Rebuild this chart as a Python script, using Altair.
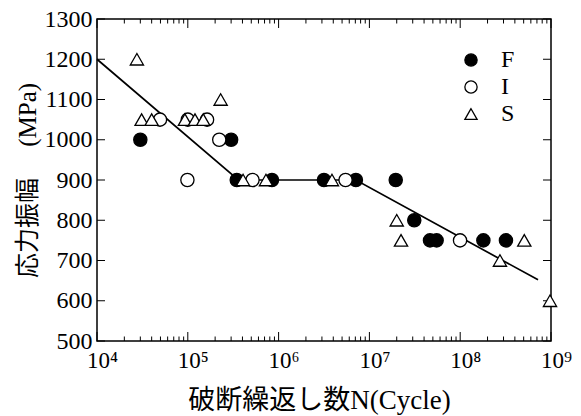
import altair as alt
import pandas as pd

# ---- data ----
f_n = [3.0e4, 3.0e5, 3.46e5, 8.45e5, 3.16e6, 7.1e6, 1.95e7, 3.12e7, 4.65e7, 5.5e7, 1.8e8, 3.19e8]
f_s = [1000, 1000, 900, 900, 900, 900, 900, 800, 750, 750, 750, 750]
i_n = [4.94e4, 1.0e5, 1.63e5, 2.22e5, 9.9e4, 5.16e5, 5.46e6, 9.96e7]
i_s = [1050, 1050, 1050, 1000, 900, 900, 900, 750]
s_n = [2.75e4, 3.1e4, 4.0e4, 9.3e4, 1.2e5, 1.48e5, 2.3e5, 4.06e5, 7.26e5, 3.87e6,
       2.0e7, 2.23e7, 5.08e8, 2.74e8, 9.75e8]
s_s = [1200, 1050, 1050, 1050, 1050, 1050, 1100, 900, 900, 900, 800, 750, 750, 700, 600]
fit_n = [1e4, 3.6e5, 7.1e6, 7.2e8]
fit_s = [1200, 900, 900, 652]

series_names = ["F", "I", "S"]
x_major = [1e4, 1e5, 1e6, 1e7, 1e8, 1e9]
x_minor = [k * 10 ** d for d in range(4, 9) for k in range(2, 10)]
y_major = [500, 600, 700, 800, 900, 1000, 1100, 1200, 1300]

W, H = 454, 322
SERIF = "Liberation Serif"
MIXED = "Liberation Serif, Noto Sans CJK JP"

pts = pd.DataFrame({
    "n": f_n + i_n + s_n,
    "s": f_s + i_s + s_s,
    "series": ["F"] * len(f_n) + ["I"] * len(i_n) + ["S"] * len(s_n),
})
fit = pd.DataFrame({"n": fit_n, "s": fit_s})
xmaj = pd.DataFrame({"n": x_major})
xmin = pd.DataFrame({"n": x_minor})
ymaj = pd.DataFrame({"s": y_major})

xscale = alt.Scale(type="log", domain=[1e4, 1e9], nice=False)
yscale = alt.Scale(domain=[500, 1300], nice=False, zero=False)

x_axis = alt.Axis(
    values=x_major,
    labelExpr="'10' + ['⁴','⁵','⁶','⁷','⁸','⁹'][round(log(datum.value)/LN10) - 4]",
    ticks=False, tickSize=0, domain=False, grid=False,
    labelFont=SERIF, labelFontSize=23, labelColor="black", labelPadding=8,
    labelFlush=False, labelOverlap=False, labelOffset=5,
    title="破断繰返し数N(Cycle)", titleFont=MIXED, titleFontSize=27,
    titleFontWeight="normal", titleColor="black",
    titleBaseline="alphabetic", titleY=67, titleX=222,
)
y_axis = alt.Axis(
    values=y_major, format="d", ticks=False, tickSize=0, domain=False, grid=False,
    labelFont=SERIF, labelFontSize=24, labelColor="black", labelPadding=5,
    labelFlush=False, labelOverlap=False,
    title="応力振幅\u3000  (MPa)", titleFont=MIXED, titleFontSize=25,
    titleFontWeight="normal", titleColor="black",
    titleBaseline="alphabetic", titleX=-62, titleY=161, titleAngle=270,
)

X = alt.X("n:Q", scale=xscale, axis=x_axis)
Y = alt.Y("s:Q", scale=yscale, axis=y_axis)

def xrule(df, y1, y2):
    return alt.Chart(df).mark_rule(color="black", strokeWidth=1).encode(
        x=X, y=alt.value(y1), y2=alt.value(y2))

def yrule(df, x1, x2):
    return alt.Chart(df).mark_rule(color="black", strokeWidth=1).encode(
        y=Y, x=alt.value(x1), x2=alt.value(x2))

ticks = [
    xrule(xmaj, H, H - 9), xrule(xmin, H, H - 4.5),
    xrule(xmaj, 0, 9), xrule(xmin, 0, 4.5),
    yrule(ymaj, 0, 8), yrule(ymaj, W, W - 8),
]

line = alt.Chart(fit).mark_line(color="black", strokeWidth=1.7).encode(x=X, y=Y)

legend = alt.Legend(
    title=None, orient="none", legendX=362, legendY=29,
    labelFont=SERIF, labelFontSize=24, labelColor="black",
    symbolStrokeColor="black", symbolStrokeWidth=1.3, symbolSize=150,
    labelOffset=18, rowPadding=3, padding=0,
)

points = alt.Chart(pts).mark_point(
    filled=True, size=175, strokeWidth=1.3, opacity=1
).encode(
    x=X, y=Y,
    fill=alt.Fill("series:N", scale=alt.Scale(domain=series_names,
                  range=["black", "white", "white"]), legend=legend),
    stroke=alt.Stroke("series:N", scale=alt.Scale(domain=series_names,
                      range=["black", "black", "black"]), legend=legend),
    shape=alt.Shape("series:N", scale=alt.Scale(domain=series_names,
                    range=["circle", "circle", "triangle-up"]), legend=legend),
)

chart = alt.layer(*ticks, line, points).properties(
    width=W, height=H,
    padding={"left": 97, "top": 19, "right": 30, "bottom": 75},
    autosize=alt.AutoSizeParams(type="none"),
    background="white",
).configure_view(
    stroke="black", strokeWidth=1.5
).configure_axis(
    labelFont=SERIF, titleFont=MIXED
).configure_legend(
    labelFont=SERIF
)

chart.save("out.html", embed_options={"renderer": "svg", "actions": False})
